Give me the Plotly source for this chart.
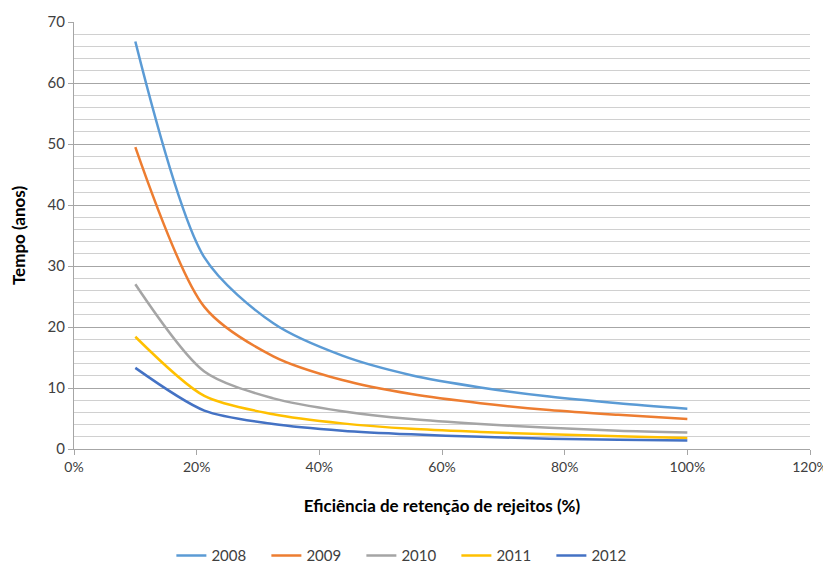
import plotly.graph_objects as go

efficiency = [0.10, 0.2125, 0.325, 0.4375, 0.55, 0.6625, 0.775, 0.8875, 1.00]
years = ["2008", "2009", "2010", "2011", "2012"]
t2008 = [66.8, 31.4, 20.6, 15.3, 12.1, 10.1, 8.6, 7.5, 6.6]
t2009 = [49.5, 23.3, 15.2, 11.3, 9.0, 7.5, 6.4, 5.6, 4.9]
t2010 = [27.0, 12.7, 8.3, 6.2, 4.9, 4.1, 3.5, 3.0, 2.7]
t2011 = [18.4, 8.7, 5.7, 4.2, 3.3, 2.8, 2.4, 2.1, 1.8]
t2012 = [13.3, 6.3, 4.1, 3.0, 2.4, 2.0, 1.7, 1.5, 1.4]
series = [t2008, t2009, t2010, t2011, t2012]
colors = ["#5B9BD5", "#ED7D31", "#A5A5A5", "#FFC000", "#4472C4"]

fig = go.Figure()
for name, vals, c in zip(years, series, colors):
    fig.add_trace(go.Scatter(x=efficiency, y=vals, name=name, mode="lines",
                             line=dict(color=c, width=2.5, shape="spline", smoothing=0.8)))

font = "Lato, Open Sans, DejaVu Sans, sans-serif"
fig.update_layout(
    width=823, height=559,
    margin=dict(l=66, r=21, t=14, b=118, autoexpand=False),
    paper_bgcolor="white", plot_bgcolor="white",
    font=dict(family=font, size=15, color="#404040"),
    showlegend=True,
    legend=dict(orientation="h", x=0.455, xanchor="center", y=-0.25, yanchor="middle",
                font=dict(size=15, color="#404040"), itemwidth=30,
                entrywidth=50, entrywidthmode="pixels"),
    xaxis=dict(range=[0, 1.2], dtick=0.2, tick0=0, tickformat=".0%", automargin=False,
               showgrid=False, zeroline=False, showline=True, linecolor="#a6a6a6",
               linewidth=1, ticks="outside", ticklen=5, tickcolor="#a6a6a6",
               tickfont=dict(size=14, color="#404040"),
               title=dict(text="<b>Eficiência de retenção de rejeitos (%)</b>",
                          font=dict(size=17, color="#000000"), standoff=26)),
    yaxis=dict(range=[0, 70], dtick=10, tick0=0, automargin=False,
               showgrid=True, gridcolor="#a6a6a6", gridwidth=1,
               minor=dict(dtick=2, showgrid=True, gridcolor="#d0d0d0", gridwidth=1),
               zeroline=False, showline=True, linecolor="#a6a6a6", linewidth=1,
               ticks="outside", ticklen=5, tickcolor="#a6a6a6",
               tickfont=dict(size=15, color="#404040"),
               title=dict(text="<b>Tempo (anos)</b>", font=dict(size=17, color="#000000"),
                          standoff=20)),
)
fig.write_html("out.html")
